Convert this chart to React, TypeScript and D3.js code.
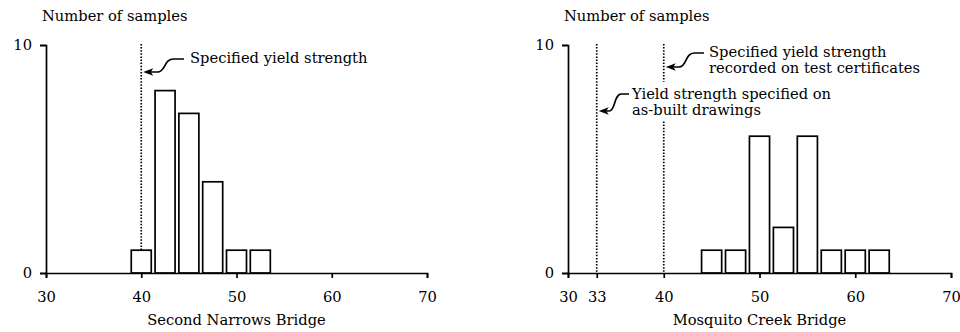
import React from 'react';
import * as d3 from 'd3';

// yield strength histograms, one bar per 2.5 unit bin (bin centre)
const leftBins = [40, 42.5, 45, 47.5, 50, 52.5];
const leftCounts = [1, 8, 7, 4, 1, 1];
const rightBins = [45, 47.5, 50, 52.5, 55, 57.5, 60, 62.5];
const rightCounts = [1, 1, 6, 2, 6, 1, 1, 1];

const leftTicks = [30, 40, 50, 60, 70];
const rightTicks = [30, 33, 40, 50, 60, 70];
const yTicks = [0, 10];

const leftTitle = 'Second Narrows Bridge';
const rightTitle = 'Mosquito Creek Bridge';
const yLabel = 'Number of samples';

const FONT = "'DejaVu Serif', 'Liberation Serif', serif";
const FS = 14.7;
const LINE = 16;
const BIN_HALF = 1.05;

const drawArrow = (g, sx, sy, tx, ty) => {
    const w = sx - tx;
    const p1x = sx - 0.25 * w;
    const p2x = tx + 0.35 * w;
    g.append('path')
        .attr('d', `M${sx},${sy} L${p1x},${sy} C${sx - 0.5 * w},${sy} ${sx - 0.45 * w},${ty} ${p2x},${ty} L${tx + 7},${ty}`)
        .attr('fill', 'none')
        .attr('stroke', '#000')
        .attr('stroke-width', 1.7);
    g.append('path')
        .attr('d', `M${tx},${ty} L${tx + 10},${ty - 3.8} L${tx + 7.5},${ty} L${tx + 10},${ty + 3.8} Z`)
        .attr('fill', '#000');
};

const drawLabel = (g, x, y, lines, knockout = false) => {
    const t = g.append('text')
        .attr('x', x)
        .attr('y', y)
        .attr('font-family', FONT)
        .attr('font-size', FS)
        .attr('fill', '#000');
    lines.forEach((s, i) => {
        t.append('tspan').attr('x', x).attr('dy', i === 0 ? 0 : LINE).text(s);
    });
    if (knockout) {
        const b = t.node().getBBox();
        g.insert('rect', () => t.node())
            .attr('x', b.x - 2)
            .attr('y', b.y - 3)
            .attr('width', b.width + 4)
            .attr('height', b.height + 6)
            .attr('fill', '#fff');
    }
};

const drawPanel = (svg, p) => {
    const g = svg.append('g');

    const x = d3.scaleLinear().domain([30, 70]).range(p.xRange);
    const y = d3.scaleLinear().domain([0, 10]).range([273, 45]);

    // reference (specified strength) lines
    p.refs.forEach((v) => {
        g.append('line')
            .attr('x1', x(v)).attr('x2', x(v))
            .attr('y1', y(10) - 1).attr('y2', y(0))
            .attr('stroke', '#000')
            .attr('stroke-width', 1.7)
            .attr('stroke-dasharray', '1.5 1.6');
    });

    // bars
    g.append('g')
        .selectAll('rect')
        .data(p.bins)
        .enter()
        .append('rect')
        .attr('x', (d) => x(d - BIN_HALF))
        .attr('y', (d, i) => y(p.counts[i]))
        .attr('width', (d) => x(d + BIN_HALF) - x(d - BIN_HALF))
        .attr('height', (d, i) => y(0) - y(p.counts[i]))
        .attr('fill', '#fff')
        .attr('stroke', '#000')
        .attr('stroke-width', 1.7);

    // X axis
    const xa = g.append('g')
        .attr('transform', `translate(0,${y(0)})`)
        .call(d3.axisBottom(x).tickValues(p.ticks).tickSize(5).tickPadding(14).tickFormat(d3.format('d')));
    // Y axis
    const ya = g.append('g')
        .attr('transform', `translate(${x(30)},0)`)
        .call(d3.axisLeft(y).tickValues(yTicks).tickSize(6).tickPadding(8));

    [xa, ya].forEach((a) => {
        a.attr('font-family', FONT).attr('font-size', FS);
        a.selectAll('path, line').attr('stroke-width', 1.7);
        a.selectAll('text').attr('fill', '#000');
    });

    g.append('text')
        .attr('x', x(50))
        .attr('y', 325)
        .attr('text-anchor', 'middle')
        .attr('font-family', FONT)
        .attr('font-size', FS)
        .text(p.title);

    g.append('text')
        .attr('x', x(30) - 4)
        .attr('y', 21)
        .attr('font-family', FONT)
        .attr('font-size', FS)
        .text(yLabel);

    p.notes.forEach((n) => {
        drawLabel(g, n.tx, n.ty, n.lines, n.knockout);
        drawArrow(g, n.sx, n.sy, x(n.ref) + 2, n.tipY);
    });
};

const Chart = () => {
    const svgRef = React.useRef(null);

    React.useEffect(() => {
        const svg = d3.select(svgRef.current);
        svg.selectAll('*').remove();

        drawPanel(svg, {
            xRange: [46, 427],
            bins: leftBins,
            counts: leftCounts,
            ticks: leftTicks,
            refs: [40],
            title: leftTitle,
            notes: [
                { lines: ['Specified yield strength'], tx: 190, ty: 63, sx: 184, sy: 59, ref: 40, tipY: 72 },
            ],
        });

        drawPanel(svg, {
            xRange: [568, 951],
            bins: rightBins,
            counts: rightCounts,
            ticks: rightTicks,
            refs: [33, 40],
            title: rightTitle,
            notes: [
                { lines: ['Specified yield strength', 'recorded on test certificates'], tx: 709, ty: 57, sx: 704, sy: 53, ref: 40, tipY: 67 },
                { lines: ['Yield strength specified on', 'as-built drawings'], tx: 632, ty: 99, sx: 629, sy: 94, ref: 33, tipY: 111, knockout: true },
            ],
        });
    }, []);

    return <svg ref={svgRef} width={960} height={332} style={{ position: 'absolute', left: 0, top: 0, background: '#fff' }} />;
};

export default function App() {
    return <Chart />;
}
